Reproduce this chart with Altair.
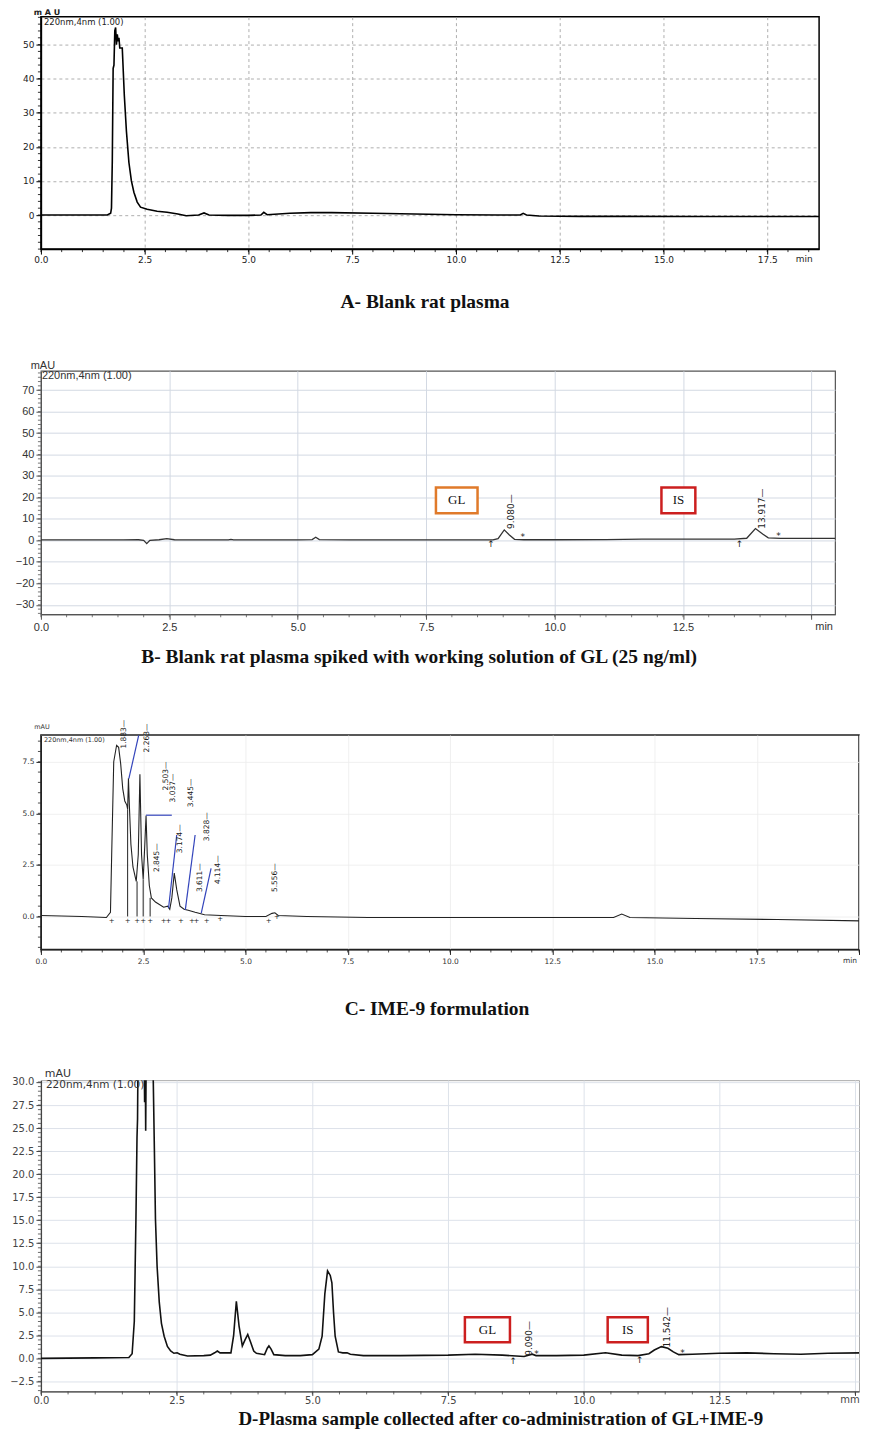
import altair as alt
import pandas as pd

# ---------------- A: blank rat plasma ----------------
A_T = [0.0, 1.0, 1.6, 1.68, 1.7, 1.72, 1.74, 1.76, 1.78, 1.8,
       1.82, 1.84, 1.86, 1.88, 1.9, 1.93, 1.96, 2.01, 2.06, 2.12,
       2.18, 2.24, 2.32, 2.4, 2.56, 2.8, 3.04, 3.3, 3.5, 3.8,
       3.93, 4.05, 4.5, 5.0, 5.3, 5.37, 5.45, 6.0, 6.5, 7.0,
       8.0, 9.0, 10.0, 11.0, 11.55, 11.62, 11.7, 12.0, 13.0, 14.0,
       16.0, 18.75]
A_V = [0.0, 0.0, 0.0, 0.5, 2.0, 16, 43, 44, 54, 55,
       50, 53, 51, 52, 49, 49, 49, 35, 24.6, 15.4,
       10, 6.7, 3.8, 2.3, 1.7, 1.1, 0.8, 0.3, -0.2, 0.0,
       0.6, 0.0, -0.1, -0.1, 0.0, 0.8, 0.1, 0.5, 0.7, 0.7,
       0.5, 0.3, 0.1, 0.0, 0.0, 0.5, 0.0, -0.3, -0.4, -0.4,
       -0.45, -0.45]

# ---------------- B: spiked plasma ----------------
B_T = [0.0, 1.6, 1.9, 2.0, 2.06, 2.12, 2.3, 2.45, 2.6, 3.0, 3.65, 3.7, 3.75,
       5.0, 5.28, 5.35, 5.42, 6.0, 8.0, 8.8, 8.9, 9.02, 9.12, 9.22, 9.4, 10.0,
       11.0, 11.7, 12.5, 13.5, 13.74, 13.91, 14.05, 14.16, 14.4, 15.46]
B_V = [0.2, 0.2, 0.3, 0.0, -1.5, 0.0, 0.3, 0.8, 0.3, 0.2, 0.2, 0.5, 0.2,
       0.2, 0.4, 1.5, 0.4, 0.2, 0.2, 0.2, 0.8, 4.9, 2.5, 0.5, 0.3, 0.3,
       0.4, 0.6, 0.6, 0.6, 1.0, 5.5, 3.0, 1.2, 0.9, 0.9]
B_PK_T = [9.15, 14.04]
B_PK_V = [13.4, 14.8]
B_PK_LAB = ["9.080\u2014", "13.917\u2014"]
B_MK_T = [8.76, 9.38, 13.6, 14.36]
B_MK_V = [-1.8, 1.4, -1.6, 2.0]
B_MK_S = ["\u2191", "*", "\u2191", "*"]
B_BOX_T1 = [7.69, 12.08]
B_BOX_T2 = [8.50, 12.74]
B_BOX_V1 = [12.6, 12.6]
B_BOX_V2 = [24.7, 24.7]
B_BOX_LAB = ["GL", "IS"]
B_BOX_COL = ["#e07a2a", "#cc1f1f"]

# ---------------- C: IME-9 formulation ----------------
C_T = [0.0, 1.0, 1.6, 1.7, 1.73, 1.78, 1.85, 1.9, 1.95, 2.0, 2.05, 2.1, 2.12, 2.14,
       2.16, 2.2, 2.25, 2.33, 2.38, 2.42, 2.46, 2.5, 2.54, 2.57, 2.6, 2.65, 2.7, 2.8,
       3.0, 3.1, 3.15, 3.2, 3.26, 3.32, 3.4, 3.5, 3.6, 3.77, 4.0, 4.4, 5.0, 5.5, 5.65,
       5.72, 5.8, 6.5, 8.0, 10.0, 12.0, 14.0, 14.2, 14.4, 16.0, 18.0, 20.17]
C_V = [0.05, 0.0, -0.05, 0.2, 3.0, 7.5, 8.3, 8.2, 7.4, 6.2, 5.6, 5.4, 5.2, 6.7,
       5.5, 3.5, 2.4, 1.7, 3.0, 6.9, 3.0, 1.8, 3.5, 4.9, 3.0, 1.5, 0.9, 0.7,
       0.45, 0.5, 0.35, 0.9, 2.1, 1.3, 0.5, 0.35, 0.3, 0.2, 0.08, 0.05, 0.0, 0.0, 0.15,
       0.18, 0.05, 0.0, -0.05, -0.05, -0.05, -0.05, 0.12, -0.05, -0.1, -0.15, -0.22]
C_LAB_T = [2.02, 2.59, 3.05, 3.24, 3.66, 4.05, 2.83, 3.41, 3.88, 4.32, 5.73]
C_LAB_V = [8.84, 8.65, 6.81, 6.23, 5.99, 4.35, 2.85, 3.77, 1.88, 2.27, 1.88]
C_LAB = ["1.883\u2014", "2.263\u2014", "2.503\u2014", "3.037\u2014", "3.445\u2014",
         "3.828\u2014", "2.845\u2014", "3.174\u2014", "3.611\u2014", "4.114\u2014",
         "5.556\u2014"]
C_DROP_T = [2.12, 2.35, 2.5, 2.67]
C_DROP_V = [5.2, 1.7, 1.8, 0.9]
C_LEAD_T1 = [2.15, 2.57, 3.12, 3.53, 3.92]
C_LEAD_V1 = [6.68, 4.91, 0.40, 0.32, 0.16]
C_LEAD_T2 = [2.39, 3.20, 3.32, 3.77, 4.16]
C_LEAD_V2 = [8.78, 4.91, 3.95, 3.95, 2.33]
C_MK_T = [1.73, 2.12, 2.35, 2.5, 2.67, 3.0, 3.12, 3.42, 3.69, 3.8, 4.05, 4.38, 5.57, 5.77]
C_MK_V = [-0.2, -0.2, -0.2, -0.2, -0.2, -0.2, -0.2, -0.2, -0.2, -0.2, -0.2, -0.1, -0.2, -0.05]

# ---------------- D: plasma after co-administration ----------------
D_T = [0.0, 1.0, 1.62, 1.68, 1.72, 1.75, 1.77, 1.78, 1.79, 1.85, 1.9, 1.91, 1.92, 1.93,
       1.94, 2.05, 2.07, 2.09, 2.11, 2.14, 2.18, 2.22, 2.27, 2.33, 2.39, 2.45, 2.51, 2.56,
       2.7, 3.0, 3.12, 3.2, 3.25, 3.3, 3.5, 3.55, 3.6, 3.65, 3.71, 3.76, 3.81, 3.86, 3.92,
       3.97, 4.12, 4.17, 4.2, 4.24, 4.29, 4.5, 4.78, 5.0, 5.12, 5.18, 5.23, 5.28, 5.33,
       5.36, 5.39, 5.42, 5.48, 5.56, 5.64, 5.7, 5.94, 6.62, 7.5, 8.0, 8.5, 8.9, 9.05,
       9.12, 9.5, 10.0, 10.4, 10.7, 11.0, 11.2, 11.3, 11.43, 11.55, 11.65, 11.75, 12.0,
       12.5, 13.0, 13.5, 14.0, 14.5, 15.22]
D_V = [0.0, 0.05, 0.1, 0.5, 4, 15, 24, 26, 34, 34, 34, 27.8, 34, 24.7,
       34, 34, 30, 22.7, 15.1, 10, 6.1, 3.8, 2.4, 1.3, 0.8, 0.55, 0.6, 0.45,
       0.25, 0.3, 0.35, 0.6, 0.8, 0.6, 0.6, 2.5, 6.2, 3.5, 1.35, 2.0, 2.6, 1.8, 0.8,
       0.55, 0.4, 1.1, 1.35, 1.0, 0.4, 0.3, 0.3, 0.4, 1.0, 2.4, 7.0, 9.5, 9.0,
       8.2, 5.0, 2.4, 0.7, 0.6, 0.6, 0.45, 0.3, 0.3, 0.35, 0.45, 0.35, 0.2, 0.45,
       0.3, 0.3, 0.35, 0.6, 0.35, 0.3, 0.5, 0.9, 1.27, 1.1, 0.7, 0.4, 0.45,
       0.55, 0.6, 0.5, 0.45, 0.55, 0.6]
D_PK_T = [9.0, 11.54]
D_PK_V = [2.17, 3.37]
D_PK_LAB = ["9.090\u2014", "11.542\u2014"]
D_MK_T = [8.7, 9.13, 11.03, 11.82]
D_MK_V = [-0.3, 0.5, -0.2, 0.6]
D_MK_S = ["\u2191", "*", "\u2191", "*"]
D_BOX_T1 = [7.81, 10.44]
D_BOX_T2 = [8.64, 11.18]
D_BOX_V1 = [1.74, 1.74]
D_BOX_V2 = [4.46, 4.46]
D_BOX_LAB = ["GL", "IS"]
D_BOX_COL = ["#cc1f1f", "#cc1f1f"]

assert len(A_T) == len(A_V) and len(B_T) == len(B_V)
assert len(C_T) == len(C_V) and len(D_T) == len(D_V)

SERIF = "Liberation Serif"
TITLE_FS = 19.5
ONE = pd.DataFrame({"k": [0]})


def steps(a, b, s):
    n = int(round((b - a) / s))
    return [round(a + i * s, 6) for i in range(n + 1)]


def build(p):
    W, H = p["W"], p["H"]
    xs = alt.Scale(domain=p["xdom"], nice=False, zero=False)
    ys = alt.Scale(domain=p["ydom"], nice=False, zero=False)
    axx = alt.Axis(values=p["xvals"], title=None, labelExpr=p["xexpr"],
                   labelFont=p["font"], labelFontSize=p["fs"], labelColor=p["lc"],
                   labelFlush=False, labelOverlap=False, labelPadding=p["xpad"],
                   grid=True, gridColor=p["gc"], gridWidth=p["gw"], gridDash=p["gd"],
                   domainColor=p["dc"], domainWidth=p["dw"], tickColor=p["dc"],
                   tickWidth=1, tickSize=p["ts"])
    axy = alt.Axis(values=p["yvals"], title=None, labelExpr=p["yexpr"],
                   labelFont=p["font"], labelFontSize=p["fs"], labelColor=p["lc"],
                   labelFlush=False, labelOverlap=False, labelPadding=2,
                   grid=True, gridColor=p["gc"], gridWidth=p["gw"], gridDash=p["gd"],
                   domainColor=p["dc"], domainWidth=p["dw"], tickColor=p["dc"],
                   tickWidth=1, tickSize=5)

    def X(f="t"):
        return alt.X(f"{f}:Q", scale=xs, axis=axx)

    def Y(f="v"):
        return alt.Y(f"{f}:Q", scale=ys, axis=axy)

    layers = []
    # invisible layout spacer
    layers.append(alt.Chart(ONE).mark_rule(strokeOpacity=0).encode(
        x=alt.value(-32), x2=alt.value(0), y=alt.value(-p["T"]), y2=alt.value(H + p["B"])))
    # curve
    layers.append(alt.Chart(pd.DataFrame({"t": p["ct"], "v": p["cv"]})).mark_line(
        color=p["lcol"], strokeWidth=p["lw"], clip=True).encode(x=X(), y=Y()))
    # minor ticks
    layers.append(alt.Chart(pd.DataFrame({"t": p["xminor"]})).mark_rule(
        color=p["dc"], strokeWidth=0.8).encode(x=X(), y=alt.value(H), y2=alt.value(H + 3)))
    layers.append(alt.Chart(pd.DataFrame({"v": p["yminor"]})).mark_rule(
        color=p["dc"], strokeWidth=0.8).encode(y=Y(), x=alt.value(0), x2=alt.value(-3)))
    # free texts (header, min, title)
    for (txt, px, py, fs, font, weight, align, col) in p["texts"]:
        layers.append(alt.Chart(pd.DataFrame({"s": [txt]})).mark_text(
            font=font, fontSize=fs, fontWeight=weight, align=align, baseline="middle",
            color=col).encode(x=alt.value(px), y=alt.value(py), text="s:N"))
    layers.extend(p.get("extra", lambda X, Y: [])(X, Y))
    return alt.layer(*layers).properties(
        width=W, height=H,
        view=alt.ViewBackground(stroke=p["vs"], strokeWidth=p["vw"], fill="white"))


def peak_labels(T, V, L, fs):
    def f(X, Y):
        return [alt.Chart(pd.DataFrame({"t": T, "v": V, "s": L})).mark_text(
            angle=270, fontSize=fs, font="DejaVu Sans", color="#222").encode(
            x=X(), y=Y(), text="s:N")]
    return f


def markers(T, V, S, fs):
    def f(X, Y):
        return [alt.Chart(pd.DataFrame({"t": T, "v": V, "s": S})).mark_text(
            fontSize=fs, font="DejaVu Sans", color="#222").encode(x=X(), y=Y(), text="s:N")]
    return f


def boxes(T1, T2, V1, V2, L, COL):
    def f(X, Y):
        d = pd.DataFrame({"t": T1, "t2": T2, "v": V1, "v2": V2, "s": L, "c": COL,
                          "tm": [(a + b) / 2 for a, b in zip(T1, T2)],
                          "vm": [(a + b) / 2 for a, b in zip(V1, V2)]})
        return [
            alt.Chart(d).mark_rect(fill="white", strokeWidth=2.5).encode(
                x=X(), x2="t2:Q", y=Y(), y2="v2:Q",
                stroke=alt.Stroke("c:N", scale=None)),
            alt.Chart(d).mark_text(font=SERIF, fontSize=13, color="#111").encode(
                x=X("tm"), y=Y("vm"), text="s:N"),
        ]
    return f


def combine(*fs):
    def f(X, Y):
        out = []
        for g in fs:
            out.extend(g(X, Y))
        return out
    return f


def c_extra(X, Y):
    lead = pd.DataFrame({"t": C_LEAD_T1, "v": C_LEAD_V1, "t2": C_LEAD_T2, "v2": C_LEAD_V2})
    drop = pd.DataFrame({"t": C_DROP_T, "v": [0.0] * len(C_DROP_T), "v2": C_DROP_V})
    return [
        alt.Chart(drop).mark_rule(color="#222", strokeWidth=1).encode(x=X(), y=Y(), y2="v2:Q"),
        alt.Chart(lead).mark_rule(color="#3344bb", strokeWidth=1.2).encode(
            x=X(), x2="t2:Q", y=Y(), y2="v2:Q"),
    ]


fmt1 = "format(datum.value, '.1f')"

A = build(dict(
    W=780, H=233, xdom=[0, 18.75], ydom=[-10, 58.2], T=9, B=65,
    xvals=steps(0, 17.5, 2.5), yvals=steps(0, 50, 10), xexpr=fmt1,
    yexpr="format(datum.value, 'd')",
    font="DejaVu Sans", fs=9, lc="#222", gc="#9a9a9a", gw=0.8, gd=[3, 3],
    dc="#000", dw=1.5, ts=5, xpad=1, vs="#000", vw=1.5, lcol="#000", lw=1.6,
    ct=A_T, cv=A_V, xminor=steps(0, 18.5, 0.5), yminor=steps(-10, 58, 2),
    texts=[("m A U", 6, -4, 8, "DejaVu Sans", "bold", "center", "#222"),
           ("220nm,4nm (1.00)", 3, 5, 8.5, "DejaVu Sans", "normal", "left", "#222"),
           ("min", 765, 243, 9, "DejaVu Sans", "normal", "center", "#222"),
           ("A- Blank rat plasma", 385, 286, TITLE_FS, SERIF, "bold", "center", "#111")],
))

B = build(dict(
    W=796, H=244, xdom=[0, 15.46], ydom=[-34.4, 79], T=55, B=55,
    xvals=steps(0, 15, 2.5), yvals=steps(-30, 70, 10),
    xexpr="datum.value >= 15 ? '' : format(datum.value, '.1f')",
    yexpr="format(datum.value, 'd')",
    font="Liberation Sans", fs=11, lc="#333", gc="#d3d9e3", gw=1, gd=[],
    dc="#555", dw=1.2, ts=5, xpad=2, vs="#555", vw=1.2, lcol="#333", lw=1.3,
    ct=B_T, cv=B_V, xminor=steps(0, 15.0, 0.5), yminor=steps(-34, 78, 2),
    texts=[("mAU", 2, -5, 11, "Liberation Sans", "normal", "center", "#333"),
           ("220nm,4nm (1.00)", 1, 5, 11, "Liberation Sans", "normal", "left", "#333"),
           ("min", 785, 257, 11, "Liberation Sans", "normal", "center", "#333"),
           ("B- Blank rat plasma spiked with working solution of GL (25 ng/ml)",
            379, 287, TITLE_FS, SERIF, "bold", "center", "#111")],
    extra=combine(boxes(B_BOX_T1, B_BOX_T2, B_BOX_V1, B_BOX_V2, B_BOX_LAB, B_BOX_COL),
                  peak_labels(B_PK_T, B_PK_V, B_PK_LAB, 9),
                  markers(B_MK_T, B_MK_V, B_MK_S, 9)),
))

C = build(dict(
    W=820, H=215, xdom=[0, 20.0], ydom=[-1.6, 8.8], T=64, B=72,
    xvals=steps(0, 20, 2.5), yvals=steps(0, 7.5, 2.5),
    xexpr="datum.value >= 20 ? '' : format(datum.value, '.1f')", yexpr=fmt1,
    font="DejaVu Sans", fs=7.5, lc="#333", gc="#ececec", gw=0.8, gd=[],
    dc="#222", dw=1.2, ts=5, xpad=3, vs="#222", vw=1.5, lcol="#222", lw=1.1,
    ct=C_T, cv=C_V, xminor=steps(0, 20, 0.5), yminor=steps(-1.5, 8.5, 0.5),
    texts=[("mAU", 1, -8, 6.5, "DejaVu Sans", "normal", "center", "#333"),
           ("220nm,4nm (1.00)", 3, 5, 6.5, "DejaVu Sans", "normal", "left", "#333"),
           ("min", 811, 227, 7.5, "DejaVu Sans", "normal", "center", "#333"),
           ("C- IME-9 formulation", 397, 275, TITLE_FS, SERIF, "bold", "center", "#111")],
    extra=combine(c_extra, peak_labels(C_LAB_T, C_LAB_V, C_LAB, 7.5),
                  markers(C_MK_T, C_MK_V, ["+"] * len(C_MK_T), 7)),
))

D = build(dict(
    W=820, H=312, xdom=[0, 15.07], ydom=[-3.59, 30.2], T=57, B=30,
    xvals=steps(0, 15, 2.5), yvals=steps(-2.5, 30, 2.5),
    xexpr="datum.value >= 15 ? '' : format(datum.value, '.1f')", yexpr=fmt1,
    font="DejaVu Sans", fs=10, lc="#444", gc="#dde2ea", gw=1, gd=[],
    dc="#444", dw=1.3, ts=4, xpad=0, vs="#aaa", vw=1, lcol="#111", lw=1.6,
    ct=D_T, cv=D_V, xminor=steps(0, 15, 0.5), yminor=steps(-3.5, 30, 0.5),
    texts=[("mAU", 17, -6, 11, "DejaVu Sans", "normal", "center", "#333"),
           ("220nm,4nm (1.00)", 5, 5, 10.5, "DejaVu Sans", "normal", "left", "#333"),
           ("mm", 811, 321, 10, "DejaVu Sans", "normal", "center", "#444"),
           ("D-Plasma sample collected after co-administration of GL+IME-9",
            461, 340, 19, SERIF, "bold", "center", "#111")],
    extra=combine(boxes(D_BOX_T1, D_BOX_T2, D_BOX_V1, D_BOX_V2, D_BOX_LAB, D_BOX_COL),
                  peak_labels(D_PK_T, D_PK_V, D_PK_LAB, 9),
                  markers(D_MK_T, D_MK_V, D_MK_S, 9)),
))

chart = alt.vconcat(A, B, C, D, spacing=0).properties(
    padding={"top": -3, "left": 0, "right": 0, "bottom": 0}, background="white")
chart.save("out.html", embed_options={"renderer": "svg", "actions": False})
